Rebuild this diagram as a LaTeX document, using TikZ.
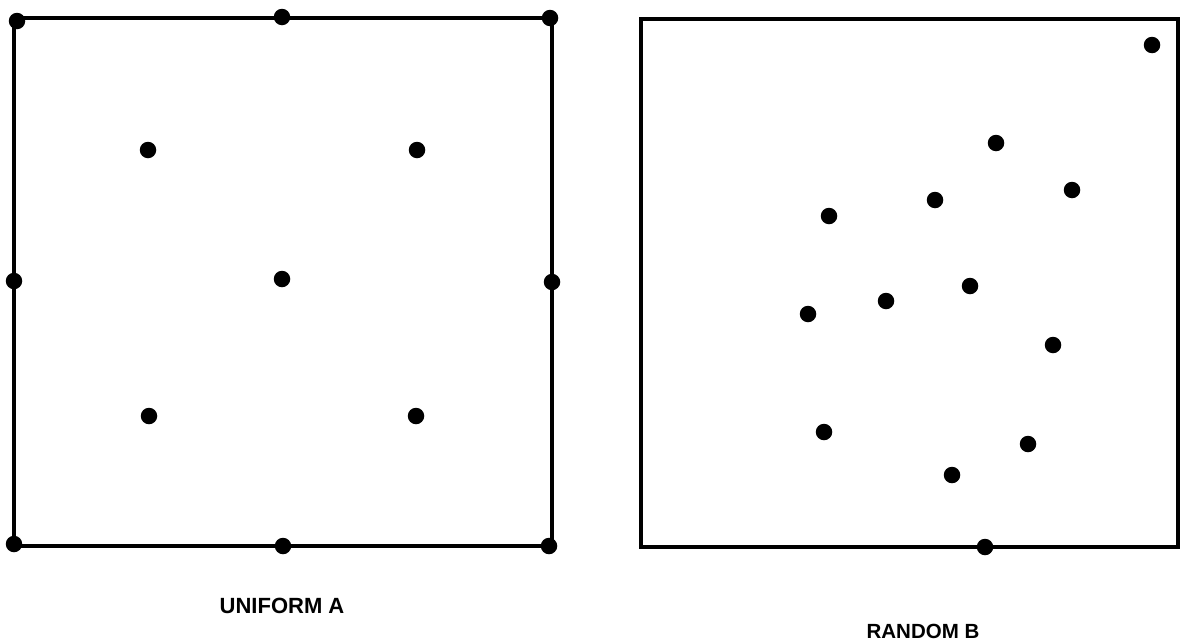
\documentclass[tikz,border=0pt]{standalone}
\usepackage{fontspec}
\setmainfont{Liberation Sans}
\usetikzlibrary{positioning}

\begin{document}
\begin{tikzpicture}[
	x=1pt, y=-1pt,
	% style for the sample points
	dot/.style={
		circle,
		fill=black,
		inner sep=0pt,
		minimum size=16.5pt
	},
	% style for the boxes
	frame/.style={
		draw=black,
		line width=3.2pt
	},
	% style for the captions
	caption/.style={
		font=\bfseries\fontsize{20.5}{24}\selectfont,
		inner sep=0pt
	}
	]
	\useasboundingbox (0,0) rectangle (1180,643);

	% Corners of the two boxes
	\coordinate (uniformNW) at (14,18);
	\coordinate (uniformSE) at (552,546);
	\coordinate (randomNW) at (641,19);
	\coordinate (randomSE) at (1178,547);

	\draw[frame] (uniformNW) rectangle (uniformSE);
	\draw[frame] (randomNW) rectangle (randomSE);

	% Uniform pattern
	\foreach \px/\py [count=\i] in {17/21, 282/17, 550/18, 148/150, 417/150,
		14/281, 282/279, 552/282, 149/416, 416/416, 14/544, 283/546, 549/546}
		\node[dot] (uniform\i) at (\px,\py) {};

	% Random pattern
	\foreach \px/\py [count=\i] in {1152/45, 996/143, 1072/190, 935/200, 829/216,
		970/286, 886/301, 808/314, 1053/345, 824/432, 1028/444, 952/475, 985/547}
		\node[dot] (random\i) at (\px,\py) {};

	% Captions
	\node[caption, font=\bfseries\fontsize{22}{26}\selectfont] (uniformlabel) at (282,606) {UNIFORM A};
	\node[caption] (randomlabel) at (923,631) {RANDOM B};

\end{tikzpicture}
\end{document}
